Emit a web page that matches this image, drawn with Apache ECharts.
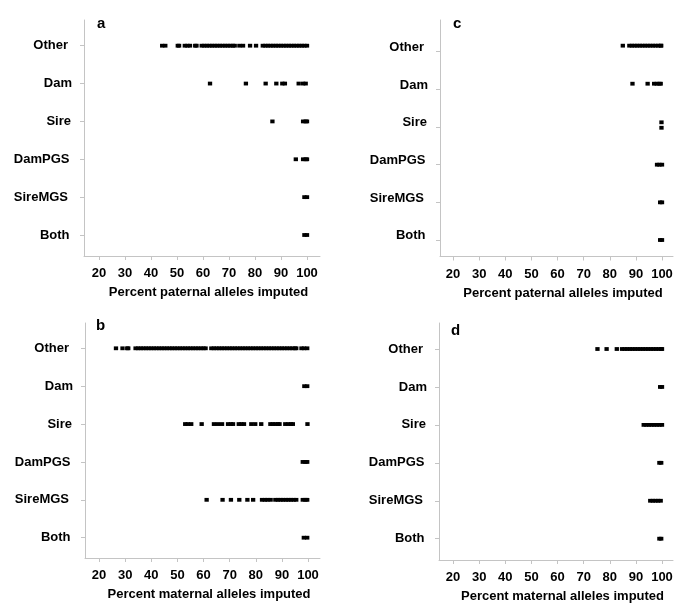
<!DOCTYPE html>
<html>
<head>
<meta charset="utf-8">
<script src="https://cdn.jsdelivr.net/npm/echarts@6/dist/echarts.min.js"></script>
<style>html,body{margin:0;padding:0;background:#fff;}#chart{width:685px;height:609px;}</style>
</head>
<body>
<div id="chart"></div>
<script>
// ---------------- data ----------------
const categories = ['Other', 'Dam', 'Sire', 'DamPGS', 'SireMGS', 'Both'];
const xTicks = [20, 30, 40, 50, 60, 70, 80, 90, 100];
const panelLetters = ['a', 'b', 'c', 'd'];
const xTitles = ['Percent paternal alleles imputed', 'Percent maternal alleles imputed',
                 'Percent paternal alleles imputed', 'Percent maternal alleles imputed'];

// panel a: paternal alleles
const aOther = [44.3, 45.5, 50.3, 50.8, 53, 54, 55, 57, 57.5, 59.5, 60.5, 61.5, 62.5, 63.5, 64.5, 65.5, 66.5, 67.5, 68.5, 69.5, 70.5, 71.5, 72.2, 74, 75.4, 78.1, 80.4, 83, 84, 85, 86, 87, 88, 89, 90, 91, 92, 93, 94, 95, 96, 97, 98, 99, 100];
const aDam = [62.7, 76.5, 84.1, 88.2, 90.5, 91.5, 96.8, 98.5, 99.5];
const aSire = [86.7, 98.5, 99.5, 100];
const aDamPGS = [95.7, 98.5, 99.5, 100];
const aSireMGS = [99, 100];
const aBoth = [99, 100];

// panel b: maternal alleles
const bOther = [26.5, 29, 30.8, 31.2, 34, 35, 36, 37, 38, 39, 40, 41, 42, 43, 44, 45, 46, 47, 48, 49, 50, 51, 52, 53, 54, 55, 56, 57, 58, 59, 60, 60.8, 63, 64, 65, 66, 67, 68, 69, 70, 71, 72, 73, 74, 75, 76, 77, 78, 79, 80, 81, 82, 83, 84, 85, 86, 87, 88, 89, 90, 91, 92, 93, 94, 95, 95.5, 97.5, 98.5, 99.7];
const bDam = [98.6, 99.7];
const bSire = [53, 54, 55.3, 59.3, 64, 65.5, 67.1, 69.4, 70.5, 71.3, 73.5, 74.5, 75.5, 78.3, 79.8, 82.1, 85.6, 86.5, 87.5, 88.5, 89.1, 91.3, 92.5, 93.5, 94.2, 99.8];
const bDamPGS = [98, 99, 99.7];
const bSireMGS = [61.2, 67.3, 70.5, 73.7, 76.8, 79, 82.4, 83.5, 84.5, 85.7, 87.5, 88.5, 89.5, 90.5, 91.5, 92.5, 93.5, 94.5, 95.5, 98, 99, 99.7];
const bBoth = [98.4, 99.7];

// panel c: paternal alleles
const cOther = [85, 87.5, 88.5, 89.5, 90.5, 91.5, 92.5, 93.5, 94.5, 95.5, 96.5, 97.5, 98.5, 99.5, 99.7];
const cDam = [88.7, 94.5, 97, 98, 99, 99.5];
const cSire = [99.8, 99.8];
const cSireStack = [0, 1];
const cDamPGS = [98.1, 99, 100];
const cSireMGS = [99.3, 100];
const cBoth = [99.3, 100];

// panel d: maternal alleles
const dOther = [75.3, 78.8, 82.7, 84.7, 85.7, 86.7, 87.7, 88.7, 89.7, 90.7, 91.7, 92.7, 93.7, 94.7, 95.7, 96.7, 97.7, 98.7, 99.7, 100];
const dDam = [99.3, 100];
const dSire = [93, 94, 95, 96, 97, 98, 99, 100];
const dDamPGS = [99, 99.7];
const dSireMGS = [95.5, 96.5, 97.5, 98.5, 99.5];
const dBoth = [99, 99.7];

const panelRows = [
  [aOther, aDam, aSire, aDamPGS, aSireMGS, aBoth],
  [bOther, bDam, bSire, bDamPGS, bSireMGS, bBoth],
  [cOther, cDam, cSire, cDamPGS, cSireMGS, cBoth],
  [dOther, dDam, dSire, dDamPGS, dSireMGS, dBoth]
];
const panelStacks = [null, null, {2: cSireStack}, null];

// ---------------- layout (pixels) ----------------
const layouts = [
  {left: 84, top: 20, right: 320, bottom: 256, x20: 99, x100: 307, row0: 45.7, row5: 235, rowShift: [0,0,0,0,0,0], labelShift: 0, letter: [97, 16]},
  {left: 85, top: 323, right: 320, bottom: 558, x20: 99, x100: 308, row0: 348.3, row5: 537.7, rowShift: [0,0,0,0,0,0], labelShift: 0, letter: [96, 318]},
  {left: 440, top: 20, right: 673, bottom: 256.5, x20: 453, x100: 662, row0: 51.7, row5: 240, rowShift: [-0.16,-0.15,0.02,0,0,0], labelShift: -0.11, letter: [453, 16]},
  {left: 439, top: 323, right: 673, bottom: 560, x20: 453, x100: 662, row0: 349, row5: 538.7, rowShift: [0,0,0,0,0,0], labelShift: 0, letter: [451, 323]}
];
const stackStep = -0.145;
const labelPad = [4, 0, 1, 2.5, 4, 2.5];

const FONT = 'Arial, "Liberation Sans", Helvetica, sans-serif';
const axisGray = '#c4c4c4';

const grids = [], xAxes = [], yAxes = [], series = [], graphics = [];
const rich = {};
labelPad.forEach((p, i) => { rich['r' + i] = {fontFamily: FONT, fontWeight: 'bold', fontSize: 13, color: '#000', padding: [0, p, 0, 0]}; });

layouts.forEach((L, p) => {
  grids.push({left: L.left, top: L.top, width: L.right - L.left, height: L.bottom - L.top, containLabel: false});
  const ppu = (L.x100 - L.x20) / 80;
  const xmin = 20 - (L.x20 - L.left) / ppu;
  const xmax = 20 + (L.right - L.x20) / ppu;
  xAxes.push({
    type: 'value', gridIndex: p, min: xmin, max: xmax, position: 'bottom',
    axisLine: {show: true, onZero: false, lineStyle: {color: axisGray, width: 1}},
    axisTick: {show: true, length: 4, lineStyle: {color: axisGray}, customValues: xTicks},
    axisLabel: {customValues: xTicks, margin: 11, fontFamily: FONT, fontWeight: 'bold', fontSize: 13, color: '#000'},
    splitLine: {show: false},
    name: xTitles[p], nameLocation: 'middle', nameGap: 30,
    nameTextStyle: {fontFamily: FONT, fontWeight: 'bold', fontSize: 13, color: '#000', padding: [0, 0, 0, 13]}
  });
  const rowPx = (L.row5 - L.row0) / 5;
  const ymin = -(L.row0 - L.top) / rowPx;
  const ymax = 5 + (L.bottom - L.row5) / rowPx;
  const shift = L.labelShift;
  yAxes.push({
    type: 'value', gridIndex: p, inverse: true, min: ymin, max: ymax, position: 'left',
    axisLine: {show: true, onZero: false, lineStyle: {color: axisGray, width: 1}},
    axisTick: {show: true, length: 4, lineStyle: {color: axisGray}, customValues: [0, 1, 2, 3, 4, 5]},
    axisLabel: {
      customValues: [0, 1, 2, 3, 4, 5].map(v => v + shift), margin: 12,
      formatter: v => { const i = Math.round(v - shift); return '{r' + i + '|' + categories[i] + '}'; },
      rich: rich
    },
    splitLine: {show: false}
  });
  const pts = [];
  panelRows[p].forEach((vals, r) => {
    const st = panelStacks[p] && panelStacks[p][r];
    vals.forEach((v, k) => {
      const y = r + L.rowShift[r] + (st ? st[k] * stackStep : 0);
      pts.push([v, y]);
    });
  });
  series.push({
    type: 'scatter', xAxisIndex: p, yAxisIndex: p, data: pts,
    symbol: 'rect', symbolSize: [4.3, 3.8],
    itemStyle: {color: '#000', opacity: 1}, silent: true, animation: false
  });
  graphics.push({
    type: 'text', left: L.letter[0], top: L.letter[1],
    style: {text: panelLetters[p], font: 'bold 15px ' + FONT, fill: '#000'}
  });
});

const chart = echarts.init(document.getElementById('chart'), null, {renderer: 'canvas'});
chart.setOption({
  backgroundColor: '#fff',
  animation: false,
  grid: grids, xAxis: xAxes, yAxis: yAxes, series: series, graphic: graphics
});
</script>
</body>
</html>
